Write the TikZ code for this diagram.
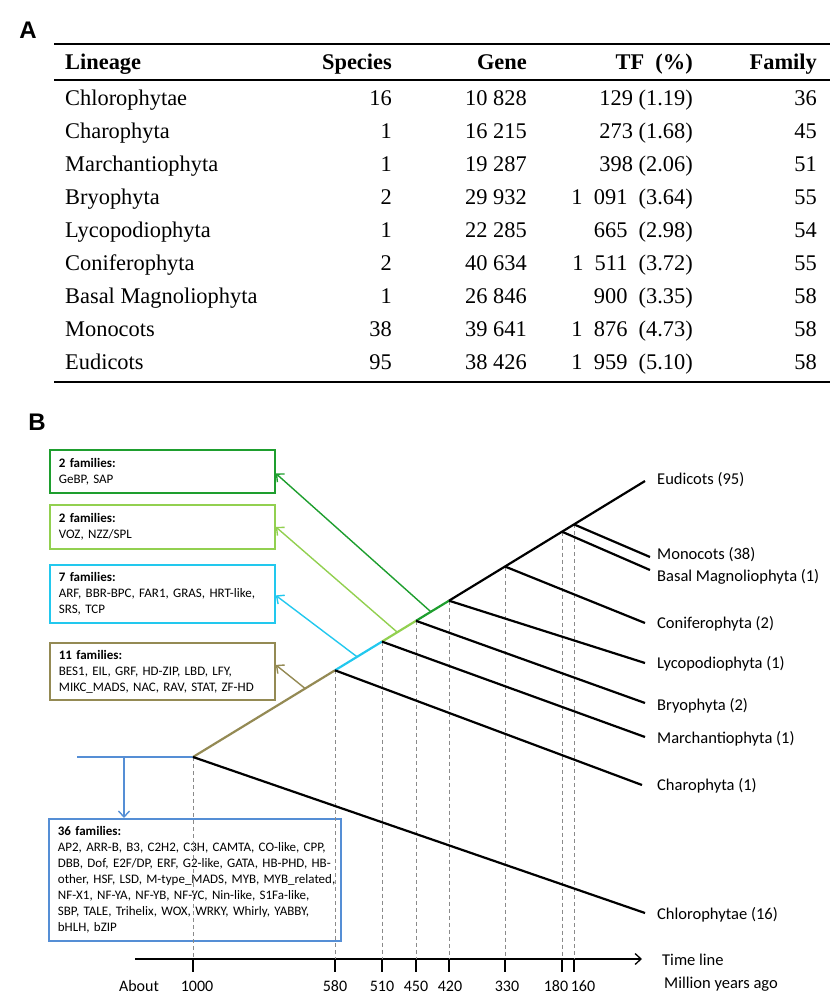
\documentclass[tikz,border=0pt]{standalone}
\usepackage{fontspec}
\setmainfont{Liberation Serif}
\newfontfamily\calfont{Carlito}
\newfontfamily\arialfont{Liberation Sans}
\usetikzlibrary{arrows.meta}

\definecolor{famdark}{HTML}{1E9E2E}
\definecolor{famlight}{HTML}{92D050}
\definecolor{famcyan}{HTML}{22C8EE}
\definecolor{famolive}{HTML}{948A54}
\definecolor{famblue}{HTML}{558ED5}
\definecolor{guidegray}{HTML}{8A8A8A}

\tikzset{
  tab/.style={inner sep=0pt,font=\fontsize{22.4}{26}\selectfont},
  tabhead/.style={inner sep=0pt,font=\fontsize{22.4}{26}\selectfont\bfseries},
  panel/.style={inner sep=0pt,font=\arialfont\bfseries\fontsize{24}{24}\selectfont},
  rule/.style={line width=1.8pt},
  fambox/.style={draw=#1,line width=1.8pt,anchor=north west,inner xsep=9pt,inner ysep=0pt,
    align=left,font=\calfont\fontsize{13}{16}\selectfont},
  famarrow/.style={draw=#1,line width=1.4pt,-{Straight Barb[length=6pt,width=11pt]}},
  branch/.style={line width=2.2pt},
  taxon/.style={anchor=mid west,inner sep=0pt,font=\calfont\fontsize{16.5}{18}\selectfont},
  timelab/.style={inner sep=0pt,font=\calfont\fontsize{16}{18}\selectfont},
  guide/.style={draw=guidegray,line width=0.9pt,dash pattern=on 4pt off 3pt},
}

\begin{document}
\begin{tikzpicture}[x=1pt,y=-1pt]
\useasboundingbox (0,0) rectangle (840,1005);

% ---- panel A: table
\node[panel] (panA) at (28,30) {A};
\draw[rule] (54,44) -- (830,44);
\draw[rule] (54,80) -- (830,80);
\draw[rule] (54,382) -- (830,382);
\node[tabhead,anchor=mid west] (hLin) at (65,67) {Lineage};
\node[tabhead,anchor=mid east] (hSp) at (392,67) {Species};
\node[tabhead,anchor=mid east] (hGene) at (527,67) {Gene};
\node[tabhead,anchor=mid east] (hTF) at (693,67) {TF~~(\%)};
\node[tabhead,anchor=mid east] (hFam) at (817,67) {Family};
\foreach \lin/\sp/\gene/\tf/\fam [count=\i from 0] in {
  Chlorophytae/16/10 828/129 (1.19)/36,
  Charophyta/1/16 215/273 (1.68)/45,
  Marchantiophyta/1/19 287/398 (2.06)/51,
  Bryophyta/2/29 932/1~~091~~(3.64)/55,
  Lycopodiophyta/1/22 285/665~~(2.98)/54,
  Coniferophyta/2/40 634/1~~511~~(3.72)/55,
  Basal Magnoliophyta/1/26 846/900~~(3.35)/58,
  Monocots/38/39 641/1~~876~~(4.73)/58,
  Eudicots/95/38 426/1~~959~~(5.10)/58}{
  \node[tab,anchor=mid west] (lin\i) at (65,103+33*\i) {\lin};
  \node[tab,anchor=mid east] (sp\i) at (392,103+33*\i) {\sp};
  \node[tab,anchor=mid east] (gene\i) at (527,103+33*\i) {\gene};
  \node[tab,anchor=mid east] (tf\i) at (693,103+33*\i) {\tf};
  \node[tab,anchor=mid east] (fam\i) at (817,103+33*\i) {\fam};
}

% ---- panel B: tree
\node[panel] (panB) at (37,422) {B};

% family boxes
\node[fambox=famdark,minimum width=225pt,minimum height=43pt,text width=207pt] (fam2a) at (49,449)
  {\textbf{2 families:}\\GeBP, SAP};
\node[fambox=famlight,minimum width=225pt,minimum height=44pt,text width=207pt] (fam2b) at (49,504)
  {\textbf{2 families:}\\VOZ, NZZ/SPL};
\node[fambox=famcyan,minimum width=225pt,minimum height=58pt,text width=207pt] (fam7) at (49,564)
  {\textbf{7 families:}\\ARF, BBR-BPC, FAR1, GRAS, HRT-like,\\SRS, TCP};
\node[fambox=famolive,minimum width=225pt,minimum height=57pt,text width=207pt] (fam11) at (49,642)
  {\textbf{11 families:}\\BES1, EIL, GRF, HD-ZIP, LBD, LFY,\\MIKC\_MADS, NAC, RAV, STAT, ZF-HD};
\node[fambox=famblue,minimum width=292pt,minimum height=122pt,text width=274pt] (fam36) at (48,818)
  {\textbf{36 families:}\\
   \mbox{AP2, ARR-B, B3, C2H2, C3H, CAMTA, CO-like, CPP,}\\
   \mbox{DBB, Dof, E2F/DP, ERF, G2-like, GATA, HB-PHD, HB-}\\
   \mbox{other, HSF, LSD, M-type\_MADS, MYB, MYB\_related,}\\
   \mbox{NF-X1, NF-YA, NF-YB, NF-YC, Nin-like, S1Fa-like,}\\
   \mbox{SBP, TALE, Trihelix, WOX, WRKY, Whirly, YABBY,}\\
   bHLH, bZIP};

% divergence nodes
\coordinate (n1000) at (193,757);
\coordinate (n580) at (335,670.3);
\coordinate (n510) at (382,641.6);
\coordinate (n450) at (416,620.8);
\coordinate (n420) at (449,600.7);
\coordinate (n330) at (505,566.5);
\coordinate (n180) at (562,531.7);
\coordinate (n160) at (574,524.4);

% tips and labels
\coordinate (tEud) at (645,481);
\coordinate (tMon) at (650,557);
\coordinate (tBas) at (650,570);
\coordinate (tCon) at (645,623);
\coordinate (tLyc) at (645,663);
\coordinate (tBry) at (645,703);
\coordinate (tMar) at (645,737);
\coordinate (tCha) at (642,785);
\coordinate (tChl) at (645,913);
\node[taxon] (lEud) at (657,482) {Eudicots (95)};
\node[taxon] (lMon) at (657,557) {Monocots (38)};
\node[taxon] (lBas) at (657,579) {Basal Magnoliophyta (1)};
\node[taxon] (lCon) at (657,626) {Coniferophyta (2)};
\node[taxon] (lLyc) at (657,666) {Lycopodiophyta (1)};
\node[taxon] (lBry) at (657,708) {Bryophyta (2)};
\node[taxon] (lMar) at (657,741) {Marchantiophyta (1)};
\node[taxon] (lCha) at (657,788) {Charophyta (1)};
\node[taxon] (lChl) at (657,917) {Chlorophytae (16)};

% time line
\coordinate (axl) at (135,959);
\coordinate (axr) at (642,959);
\draw[line width=1.3pt,-{Straight Barb[length=6pt,width=11pt]}] (axl) -- (axr);
\foreach \n in {n1000,n580,n510,n450,n420,n330,n180,n160}{
  \draw[guide] (\n) -- (\n |- axl);
  \draw[line width=1.3pt] (\n |- axl) -- ++(0,13);
}
\node[timelab] (tAbout) at (139,986) {About};
\foreach \x/\t in {197/1000,335/580,382/510,416/450,450/420,507/330,556/180,583/160}
  \node[timelab] (tk\t) at (\x,986) {\t};
\node[taxon] (tTime) at (662,963) {Time line};
\node[taxon] (tMya) at (664,986) {Million years ago};

% coloured stem
\draw[famblue,line width=1.8pt] (77,757) coordinate (stub) -- (n1000);
\coordinate (drop) at (124,757);
\draw[famarrow=famblue] (drop) -- (drop |- fam36.north);
\draw[branch,famolive] (n1000) -- (n580);
\draw[branch,famcyan] (n580) -- (n510);
\draw[branch,famlight] (n510) -- (n450);
\draw[branch,famdark] (n450) -- (n420);
\draw[branch] (n420) -- (n330) -- (n180) -- (n160) -- (tEud);

% side branches
\foreach \from/\to in {n1000/tChl,n580/tCha,n510/tMar,n450/tBry,n420/tLyc,n330/tCon,n180/tBas,n160/tMon}
  \draw[branch] (\from) -- (\to);

% gains of families
\path (n1000) -- (n580) coordinate[pos=0.79] (oOlive);
\path (n580) -- (n510) coordinate[pos=0.47] (oCyan);
\path (n510) -- (n450) coordinate[pos=0.45] (oLight);
\path (n450) -- (n420) coordinate[pos=0.45] (oDark);
\draw[famarrow=famolive] (oOlive) -- ([yshift=6.5pt]fam11.east);
\draw[famarrow=famcyan] (oCyan) -- ([yshift=-1.5pt]fam7.east);
\draw[famarrow=famlight] (oLight) -- (fam2b.east);
\draw[famarrow=famdark] (oDark) -- ([yshift=-2pt]fam2a.east);
\end{tikzpicture}
\end{document}
